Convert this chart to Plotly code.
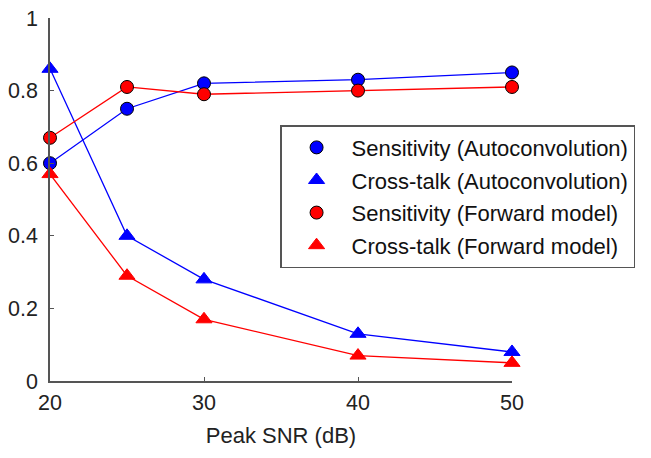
import plotly.graph_objects as go

snr = [20, 25, 30, 40, 50]
sens_auto = [0.60, 0.75, 0.82, 0.83, 0.85]
xtalk_auto = [0.86, 0.40, 0.28, 0.13, 0.08]
sens_fwd = [0.67, 0.81, 0.79, 0.80, 0.81]
xtalk_fwd = [0.57, 0.29, 0.17, 0.07, 0.05]

names = ["Sensitivity (Autoconvolution)", "Cross-talk (Autoconvolution)",
         "Sensitivity (Forward model)", "Cross-talk (Forward model)"]
series = [sens_auto, xtalk_auto, sens_fwd, xtalk_fwd]
colors = ["#0000ff", "#0000ff", "#ff0000", "#ff0000"]
symbols = ["circle", "triangle-up", "circle", "triangle-up"]
sizes = [13, 14, 13, 14]

fig = go.Figure()
for y, c in zip(series, colors):
    fig.add_trace(go.Scatter(x=snr, y=y, mode="lines", line=dict(color=c, width=1.3),
                             showlegend=False, cliponaxis=False, hoverinfo="skip"))
for y, c, s, sz, n in zip(series, colors, symbols, sizes, names):
    fig.add_trace(go.Scatter(x=snr, y=y, mode="markers", name=n, legendgroup=n,
                             marker=dict(color=c, symbol=s, size=sz,
                                         line=dict(color="#000000" if s == "circle" else c, width=1)),
                             cliponaxis=False))

fig.update_layout(
    width=651, height=458,
    margin=dict(l=42, r=147, t=10, b=85, autoexpand=False),
    paper_bgcolor="white", plot_bgcolor="white",
    font=dict(family="Liberation Sans, Arial, sans-serif", size=21.5, color="#222"),
    xaxis=dict(range=[20, 50], tickvals=[20, 30, 40, 50], ticks="inside", ticklen=4,
               showgrid=False, zeroline=False, showline=True, linecolor="#555", linewidth=1.5,
               tickcolor="#555", automargin=False, ticklabelstandoff=1, ticklabeloverflow="allow",
               title=dict(text="Peak SNR (dB)", font=dict(size=22), standoff=14)),
    yaxis=dict(range=[0, 1], tickvals=[0, 0.2, 0.4, 0.6, 0.8, 1],
               ticktext=["0", "0.2", "0.4", "0.6", "0.8", "1"], ticks="inside", ticklen=4,
               showgrid=False, zeroline=False, showline=True, linecolor="#555", linewidth=1.5,
               tickcolor="#555", automargin=False, ticklabelstandoff=6, ticklabeloverflow="allow"),
    legend=dict(x=0.498, y=0.705, xanchor="left", yanchor="top",
                bordercolor="#555", borderwidth=1.5, bgcolor="white",
                font=dict(size=22, color="#111"), itemwidth=60, tracegroupgap=1),
)

fig.write_html("out.html")
